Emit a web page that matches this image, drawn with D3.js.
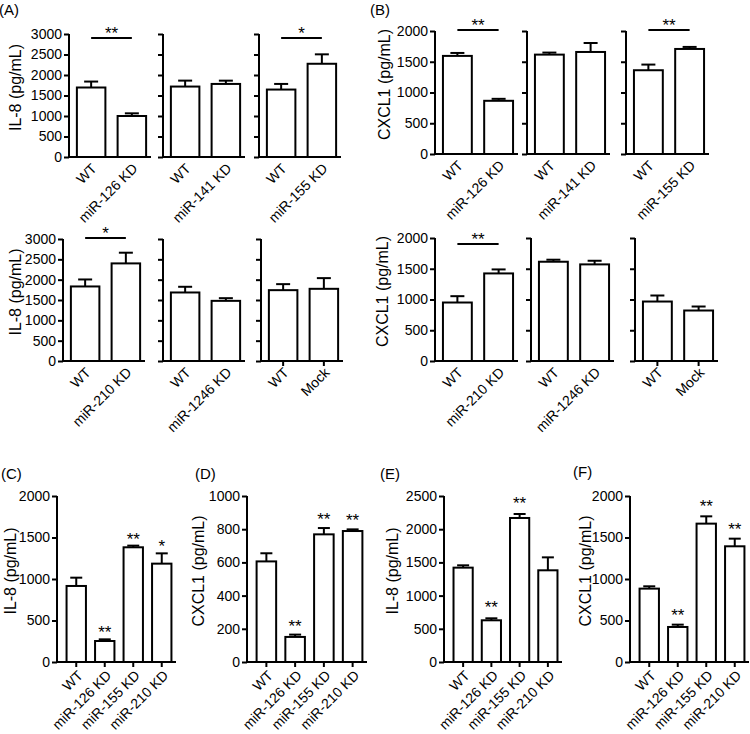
<!DOCTYPE html>
<html>
<head>
<meta charset="utf-8">
<script src="https://cdn.jsdelivr.net/npm/d3@7"></script>
<style>
  html, body { margin: 0; padding: 0; background: #fff; }
  svg { display: block; font-family: "Liberation Sans", Arial, sans-serif; }
</style>
</head>
<body>
<svg id="chart" width="750" height="734"></svg>
<script>
// ---------------- DATA ----------------
// Panels A / B : pairs of groups
const pairLabels = [
  ["WT", "miR-126 KD"], ["WT", "miR-141 KD"], ["WT", "miR-155 KD"],
  ["WT", "miR-210 KD"], ["WT", "miR-1246 KD"], ["WT", "Mock"]
];
const il8PairMeans = [[1695, 1000], [1718, 1782], [1645, 2274], [1833, 2400], [1685, 1479], [1742, 1775]];
const il8PairErr   = [[145, 65], [145, 80], [137, 230], [172, 263], [140, 66], [148, 263]];
const il8PairSig   = ["**", "", "*", "*", "", ""];
const il8PairTicks = [0, 500, 1000, 1500, 2000, 2500, 3000];

const cxclPairMeans = [[1595, 865], [1616, 1659], [1362, 1708], [951, 1424], [1614, 1571], [967, 821]];
const cxclPairErr   = [[48, 32], [33, 146], [92, 33], [103, 65], [33, 59], [98, 65]];
const cxclPairSig   = ["**", "", "**", "**", "", ""];
const cxclPairTicks = [0, 500, 1000, 1500, 2000];

// Panels C-F : four groups
const kdCategories = ["WT", "miR-126 KD", "miR-155 KD", "miR-210 KD"];
const cMeans = [916, 253, 1382, 1185];  const cErr = [100, 20, 20, 124]; const cSig = ["", "**", "**", "*"];
const dMeans = [606, 151, 769, 789];    const dErr = [49, 14, 38, 10];   const dSig = ["", "**", "**", "**"];
const eMeans = [1421, 628, 2169, 1381]; const eErr = [35, 30, 60, 195];  const eSig = ["", "**", "**", ""];
const fMeans = [884, 422, 1667, 1394];  const fErr = [28, 28, 88, 92];   const fSig = ["", "**", "**", "**"];
const cTicks = [0, 500, 1000, 1500, 2000];
const dTicks = [0, 200, 400, 600, 800, 1000];
const eTicks = [0, 500, 1000, 1500, 2000, 2500];
const fTicks = [0, 500, 1000, 1500, 2000];

// ---------------- DRAWING ----------------
const svg = d3.select("#chart");
const TICK_FS = 14, TITLE_FS = 16, STAR_FS = 17, SW = 2;

function drawBars(g, cfg) {
  const x = d3.scaleBand().domain(cfg.cats).range([cfg.x0 + cfg.padL, cfg.x1])
    .paddingInner(cfg.pIn).paddingOuter(cfg.pOut);
  const y = d3.scaleLinear().domain([cfg.ticks[0], cfg.ticks[cfg.ticks.length - 1]]).range([cfg.bottom, cfg.top]);
  const data = cfg.cats.map((c, i) => ({ c, m: cfg.means[i], e: cfg.errs[i] }));

  // error bars (upper only)
  const eb = g.append("g").attr("stroke", "#000").attr("stroke-width", SW).attr("fill", "none");
  data.forEach(d => {
    const cx = x(d.c) + x.bandwidth() / 2;
    eb.append("line").attr("x1", cx).attr("x2", cx).attr("y1", y(d.m)).attr("y2", y(d.m + d.e));
    eb.append("line").attr("x1", cx - cfg.cap).attr("x2", cx + cfg.cap).attr("y1", y(d.m + d.e)).attr("y2", y(d.m + d.e));
  });
  // bars
  g.selectAll("rect.bar").data(data).join("rect").attr("class", "bar")
    .attr("x", d => x(d.c)).attr("width", x.bandwidth())
    .attr("y", d => y(d.m)).attr("height", d => y(0) - y(d.m))
    .attr("fill", "#fff").attr("stroke", "#000").attr("stroke-width", SW);

  // y axis
  const yAxis = d3.axisLeft(y).tickValues(cfg.ticks).tickSize(5).tickPadding(2)
    .tickFormat(cfg.showYLabels ? d3.format("d") : () => "");
  const ya = g.append("g").attr("transform", `translate(${cfg.x0},0)`).call(yAxis);
  ya.select(".domain").attr("d", `M0,${cfg.bottom}V${cfg.top}`).attr("stroke-width", SW);
  ya.selectAll(".tick line").attr("stroke-width", SW);
  ya.selectAll(".tick text").attr("font-size", TICK_FS).attr("fill", "#000");

  // x axis
  const xAxis = d3.axisBottom(x).tickSize(cfg.xTicks ? 5 : 0).tickFormat(() => "");
  const xa = g.append("g").attr("transform", `translate(0,${cfg.bottom})`).call(xAxis);
  xa.select(".domain").attr("d", `M${cfg.x0 - 1},0H${cfg.xEnd}`).attr("stroke-width", SW);
  xa.selectAll(".tick line").attr("stroke-width", SW);
  // rotated labels
  data.forEach(d => {
    const cx = x(d.c) + x.bandwidth() / 2;
    g.append("text").attr("transform", `translate(${cx + cfg.lblDx},${cfg.bottom + cfg.lblDy}) rotate(-45)`)
      .attr("text-anchor", "end").attr("dy", "0.35em").attr("font-size", TICK_FS).text(d.c);
  });

  // y title
  if (cfg.title) {
    g.append("text").attr("transform", `translate(${cfg.titleX},${(cfg.top + cfg.bottom) / 2 - 8}) rotate(-90)`)
      .attr("text-anchor", "middle").attr("dy", "0.35em").attr("font-size", TITLE_FS).text(cfg.title);
  }
  return { x, y, data };
}

function drawPair(cfg) {
  const g = svg.append("g");
  const r = drawBars(g, Object.assign({ padL: 3, pIn: 0.3, pOut: 0.12, cap: 7, lblDx: 3, lblDy: 9 }, cfg));
  if (cfg.sig) {
    const c0 = r.x(cfg.cats[0]) + r.x.bandwidth() / 2;
    const c1 = r.x(cfg.cats[1]) + r.x.bandwidth() / 2;
    const ly = cfg.top + cfg.sigOff;
    g.append("line").attr("x1", c0).attr("x2", c1).attr("y1", ly).attr("y2", ly)
      .attr("stroke", "#000").attr("stroke-width", SW);
    g.append("text").attr("x", (c0 + c1) / 2).attr("y", ly + 1).attr("text-anchor", "middle")
      .attr("font-size", STAR_FS).text(cfg.sig);
  }
}

function drawQuad(cfg) {
  const g = svg.append("g");
  const r = drawBars(g, Object.assign({ padL: 5, pIn: 0.32, pOut: 0.16, cap: 6, lblDx: 4, lblDy: 11, xTicks: true, showYLabels: true }, cfg));
  r.data.forEach((d, i) => {
    if (!cfg.sigs[i]) return;
    const cx = r.x(d.c) + r.x.bandwidth() / 2;
    g.append("text").attr("x", cx).attr("y", r.y(d.m + d.e) - cfg.starGap).attr("text-anchor", "middle")
      .attr("font-size", STAR_FS).text(cfg.sigs[i]);
  });
}

// panel letters
[["(A)", -1, 15], ["(B)", 370, 15], ["(C)", 1, 479], ["(D)", 195, 479], ["(E)", 380, 479], ["(F)", 573, 477]]
  .forEach(([t, x, y]) => svg.append("text").attr("x", x).attr("y", y).attr("font-size", 15).text(t));

// ---- Panel A (IL-8) & B (CXCL1) ----
const rowsA = [
  { top: 34, bottom: 157, x0s: [69, 163, 259], w: 82, sigOff: 4, titleX: 15 },
  { top: 239, bottom: 361, x0s: [63, 163, 261], w: 82, sigOff: -1, titleX: 15 }
];
const rowsB = [
  { top: 31, bottom: 154, x0s: [435, 527, 626], w: 83, sigOff: -1, titleX: 384 },
  { top: 238, bottom: 361, x0s: [435, 531, 635], w: 83, sigOff: 6, titleX: 382 }
];
function drawRows(rows, means, errs, sigs, ticks, title) {
  rows.forEach((row, ri) => {
    row.x0s.forEach((x0, si) => {
      const k = ri * 3 + si;
      drawPair({
        cats: pairLabels[k], means: means[k], errs: errs[k], sig: sigs[k], ticks,
        x0, x1: x0 + row.w, xEnd: x0 + row.w, top: row.top, bottom: row.bottom,
        showYLabels: si === 0, title: si === 0 ? title : null, titleX: row.titleX,
        xTicks: pairLabels[k][1] === "Mock", sigOff: row.sigOff
      });
    });
  });
}
drawRows(rowsA, il8PairMeans, il8PairErr, il8PairSig, il8PairTicks, "IL-8 (pg/mL)");
drawRows(rowsB, cxclPairMeans, cxclPairErr, cxclPairSig, cxclPairTicks, "CXCL1 (pg/mL)");

// ---- Panels C-F ----
const quadTop = 496, quadBottom = 662;
drawQuad({ cats: kdCategories, means: cMeans, errs: cErr, sigs: cSig, ticks: cTicks, x0: 57, x1: 176, xEnd: 176,
  top: quadTop, bottom: quadBottom, title: "IL-8 (pg/mL)", titleX: 10, starGap: 1 });
drawQuad({ cats: kdCategories, means: dMeans, errs: dErr, sigs: dSig, ticks: dTicks, x0: 247, x1: 367, xEnd: 367,
  top: quadTop, bottom: quadBottom, title: "CXCL1 (pg/mL)", titleX: 198, starGap: 3 });
drawQuad({ cats: kdCategories, means: eMeans, errs: eErr, sigs: eSig, ticks: eTicks, x0: 444, x1: 562, xEnd: 562,
  top: quadTop, bottom: quadBottom, title: "IL-8 (pg/mL)", titleX: 392, starGap: 5 });
drawQuad({ cats: kdCategories, means: fMeans, errs: fErr, sigs: fSig, ticks: fTicks, x0: 630, x1: 749, xEnd: 749,
  top: quadTop, bottom: quadBottom, title: "CXCL1 (pg/mL)", titleX: 585, starGap: 4 });
</script>
</body>
</html>
